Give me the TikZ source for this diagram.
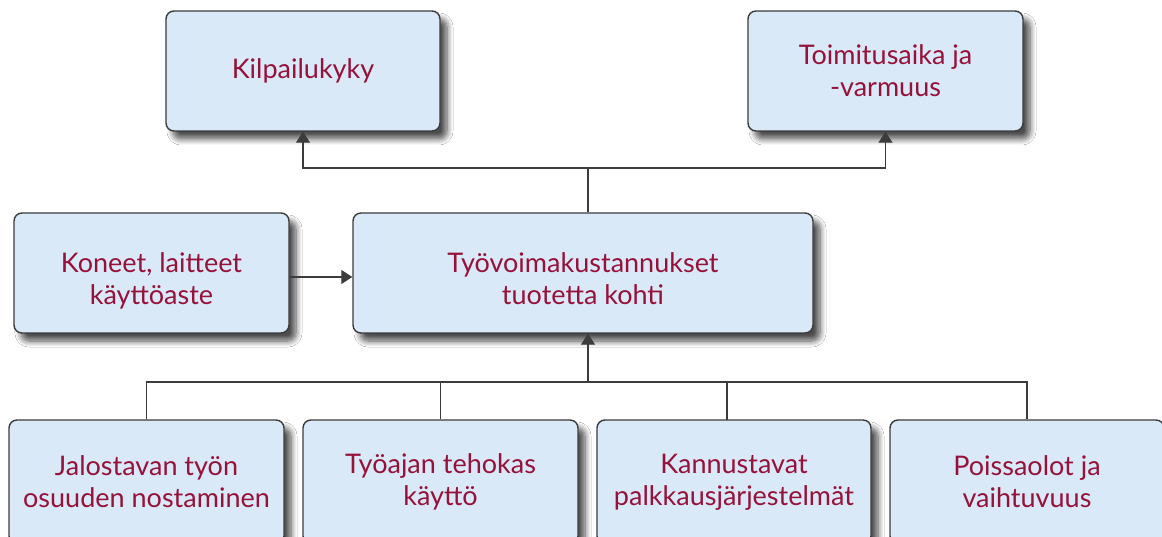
\documentclass[tikz,border=0pt]{standalone}
\usepackage{fontspec}
\setmainfont{Lato}
\usetikzlibrary{arrows.meta,shadows.blur}
\definecolor{boxfill}{RGB}{217,233,247}
\definecolor{boxline}{RGB}{60,60,60}
\definecolor{txtred}{RGB}{150,18,58}
\tikzset{
  box/.style={draw=boxline, line width=1.4pt, fill=boxfill, rounded corners=8pt,
    inner sep=0pt, align=center, text=txtred,
    font=\fontsize{27}{32}\selectfont,
    blur shadow={shadow xshift=7pt, shadow yshift=-8pt, shadow blur steps=8, shadow blur radius=6pt, shadow opacity=70}},
  txt/.style={inner sep=0pt, align=center, text=txtred, font=\fontsize{27}{32}\selectfont},
  conn/.style={draw=boxline, line width=1.3pt},
  arr/.style={conn, -{Triangle[width=14pt,length=11pt]}}
}
\begin{document}
\begin{tikzpicture}[x=1pt,y=-1pt]
\useasboundingbox (0,0) rectangle (1162,537);
\clip (0,0) rectangle (1162,537);
\fill[white] (0,0) rectangle (1162,537);
\node[box, minimum width=274pt, minimum height=120pt] (kil) at (303,71) {Kilpailukyky};
\node[box, minimum width=275pt, minimum height=120pt] (toi) at (885.5,71) {Toimitusaika ja\\-varmuus};
\node[box, minimum width=275pt, minimum height=120pt,
  label={[txt, yshift=-8pt]center:Koneet, laitteet\\käyttöaste}] (kon) at (151.5,273) {};
\node[box, minimum width=460pt, minimum height=120pt,
  label={[txt, yshift=-6pt]center:Työvoimakustannukset\\tuotetta kohti}] (tyo) at (583,273) {};
\node[box, minimum width=275pt, minimum height=124pt] (b1) at (146.5,482) {Jalostavan työn\\osuuden nostaminen};
\node[box, minimum width=275pt, minimum height=124pt] (b2) at (440.5,482) {Työajan tehokas\\käyttö};
\node[box, minimum width=274pt, minimum height=124pt] (b3) at (734,482) {Kannustavat\\palkkausjärjestelmät};
\node[box, minimum width=274pt, minimum height=124pt] (b4) at (1027,482) {Poissaolot ja\\vaihtuvuus};
% top connectors
\coordinate (j1) at (588,168);
\draw[conn] (tyo.north -| j1) -- (j1);
\draw[arr] (j1) -| (kil.south);
\draw[arr] (j1) -| (toi.south);
% left connector
\draw[arr] ([yshift=-4pt]kon.east) -- ([yshift=-4pt]tyo.west);
% bottom connectors
\coordinate (j2) at (588,382);
\coordinate (d3) at (727,420);
\draw[arr] (j2) -- (tyo.south -| j2);
\draw[conn] (b1.north) |- (j2) -| (b4.north);
\draw[conn] (b2.north) -- (b2.north |- j2);
\draw[conn] (d3) -- (d3 |- j2);
\end{tikzpicture}
\end{document}
